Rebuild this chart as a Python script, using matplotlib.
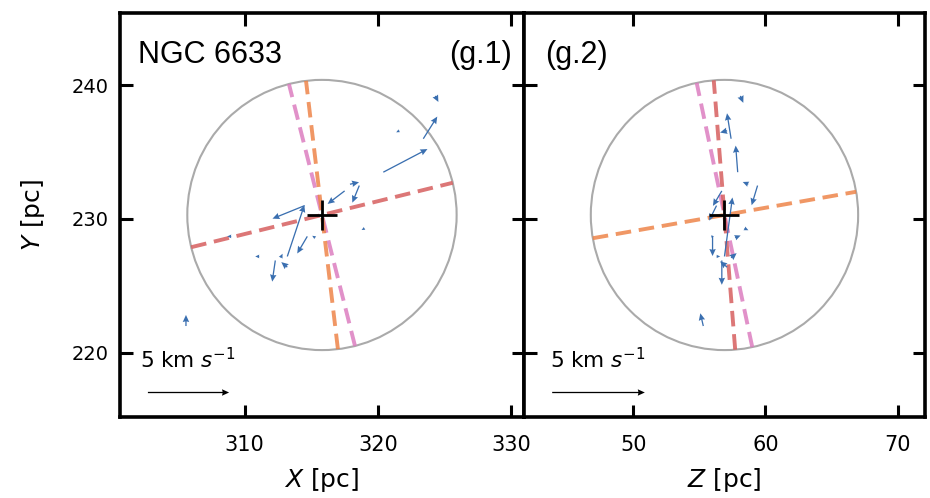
import numpy as np
import matplotlib.pyplot as plt

# member stars: positions [pc] and velocities [km/s]
star_x = [320.4, 323.4, 324.3, 321.6, 317.9, 318.6, 317.5, 314.5, 313.2,
          314.7, 315.3, 319.0, 311.1, 312.7, 313.2, 312.3, 305.6, 309.0]
star_y = [233.5, 236.0, 239.2, 236.6, 232.6, 232.5, 232.1, 231.0, 227.2,
          228.7, 228.6, 229.3, 227.2, 227.1, 226.4, 226.9, 222.0, 228.7]
star_z = [57.9, 57.4, 58.1, 57.1, 58.7, 59.4, 56.7, 56.3, 56.9,
          56.0, 57.7, 58.4, 56.3, 57.4, 57.1, 56.7, 55.3, 55.9]
vel_x = [2.72, 0.86, 0.19, -0.19, 0.56, -0.43, -1.05, -1.98, 1.05,
         -0.62, -0.19, -0.19, -0.25, 0.12, -0.37, -0.19, 0.0, -0.25]
vel_y = [1.42, 1.36, -0.37, -0.10, 0.12, -1.05, -0.80, -0.80, 3.15,
         -1.05, 0.12, -0.10, 0.0, 0.25, 0.31, -1.30, 0.68, 0.0]
vel_z = [-0.11, -0.22, 0.16, -0.38, -0.30, -0.32, -0.48, -0.40, 0.43,
         0.0, 0.30, 0.22, 0.20, 0.30, -0.38, 0.0, -0.16, 0.15]

# cluster centre, tidal radius
cen_x, cen_y, cen_z = 315.8, 230.3, 56.9
r_tidal = 10.1

# axis directions (deg from +horizontal) drawn through the centre
angles_xy = {'pink': 104.2, 'orange': 96.8, 'red': 13.8}
angles_zy = {'pink': 102.0, 'red': 94.6, 'orange': 9.9}

colors = {'red': '#d65f5f', 'orange': '#ee854a', 'pink': '#dc7ec0'}
arrow_col = '#3a6fb0'

fig = plt.figure(figsize=(9.3, 4.98), dpi=100)
ax1 = fig.add_axes([0.129, 0.1627, 0.4344, 0.8112])
ax2 = fig.add_axes([0.5634, 0.1627, 0.4312, 0.8112])

panels = [
    (ax1, star_x, vel_x, cen_x, angles_xy, 1.218, 0.168, '$X$ [pc]', [310, 320, 330]),
    (ax2, star_z, vel_z, cen_z, angles_zy, 1.40, 0.185, '$Z$ [pc]', [50, 60, 70]),
]

for ax, hpos, hvel, hcen, angs, sc, kx, xlab, xt in panels:
    circ = plt.Circle((hcen, cen_y), r_tidal, fill=False, color='#aaaaaa', lw=1.5, zorder=1)
    ax.add_patch(circ)
    for name, a in angs.items():
        t = np.deg2rad(a)
        dx, dy = r_tidal * np.cos(t), r_tidal * np.sin(t)
        ax.plot([hcen - dx, hcen + dx], [cen_y - dy, cen_y + dy], ls=(0, (4, 2)),
                color=colors[name], lw=2.8, alpha=0.85, zorder=2)
    q = ax.quiver(hpos, star_y, hvel, vel_y, angles='xy', scale_units='xy', scale=1 / sc,
                  color=arrow_col, width=0.0032, headwidth=5, headlength=5.5,
                  headaxislength=5, zorder=3)
    ax.quiverkey(q, kx, 0.062, 5, r'5 km $s^{-1}$', labelpos='N', coordinates='axes',
                 color='k', labelsep=0.2, fontproperties={'size': 15.5})
    ax.plot(hcen, cen_y, marker='+', ms=22, mew=2, color='k', zorder=4)

    ax.set_xlim(hcen - 15.15, hcen + 15.15)
    ax.set_ylim(cen_y - 15.1, cen_y + 15.1)
    ax.set_xticks(xt)
    ax.set_yticks([220, 230, 240])
    ax.tick_params(direction='in', top=True, right=True, length=9, width=2.2, labelsize=14)
    ax.tick_params(axis='x', pad=13, labelsize=15)
    ax.tick_params(axis='y', pad=8)
    for sp in ax.spines.values():
        sp.set_linewidth(2.6)
    ax.set_xlabel(xlab, fontsize=18, labelpad=8)

ax1.set_ylabel('$Y$ [pc]', fontsize=18, labelpad=18)
ax2.tick_params(labelleft=False)

ax1.text(0.044, 0.876, 'NGC 6633', transform=ax1.transAxes, fontsize=22,
         family='Liberation Sans', va='baseline', ha='left')
ax1.text(0.97, 0.876, '(g.1)', transform=ax1.transAxes, fontsize=22,
         family='Liberation Sans', va='baseline', ha='right')
ax2.text(0.052, 0.876, '(g.2)', transform=ax2.transAxes, fontsize=22,
         family='Liberation Sans', va='baseline', ha='left')

fig.savefig('out.png', dpi=100)
